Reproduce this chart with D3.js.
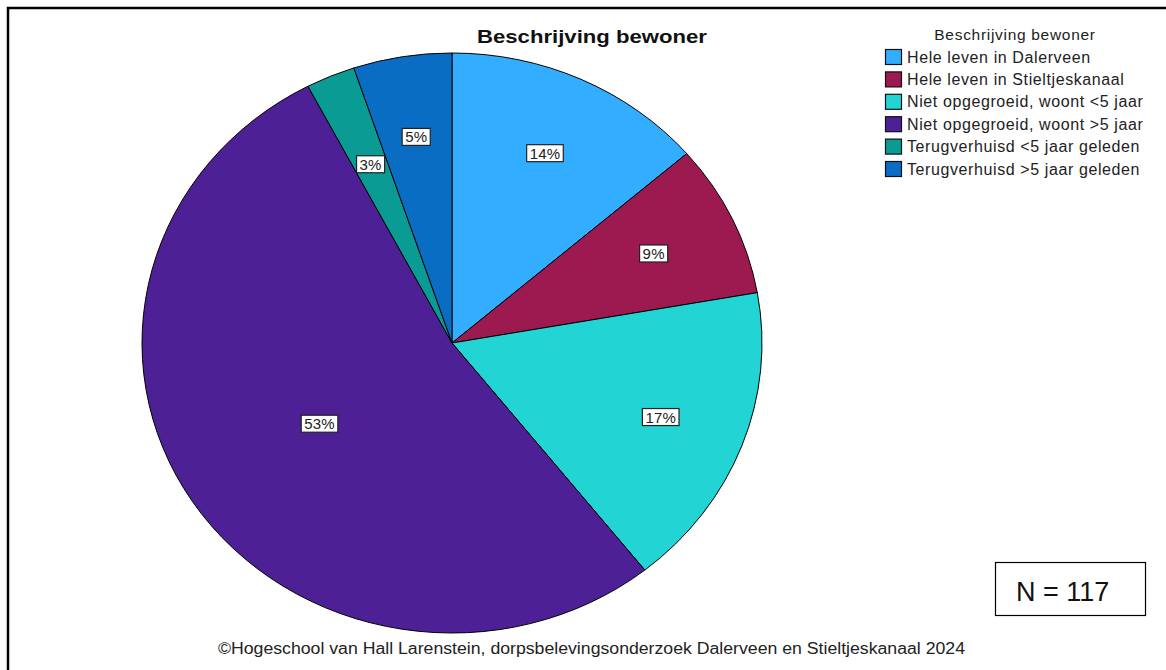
<!DOCTYPE html>
<html><head><meta charset="utf-8">
<script src="https://cdn.jsdelivr.net/npm/d3@7"></script>
<style>body{margin:0;background:#fff}svg{display:block}text{font-family:"Liberation Sans",Arial,sans-serif}</style>
</head><body>
<svg id="c" width="1166" height="670"></svg>
<script>
const categories = ["Hele leven in Dalerveen","Hele leven in Stieltjeskanaal","Niet opgegroeid, woont <5 jaar","Niet opgegroeid, woont >5 jaar","Terugverhuisd <5 jaar geleden","Terugverhuisd >5 jaar geleden"];
const counts = [16,10,20,62,3,6];
const colors = ["#33adff","#9c1a4f","#22d4d4","#4e2096","#0a9c94","#0a6dc4"];
const title = "Beschrijving bewoner";
const footer = "©Hogeschool van Hall Larenstein, dorpsbelevingsonderzoek Dalerveen en Stieltjeskanaal 2024";
const nLabel = "N = 117";

const svg = d3.select("#c");
// frame
svg.append("path").attr("d","M8,670 V8 H1166").attr("fill","none").attr("stroke","#000").attr("stroke-width",2.5);

const cx = 452, cy = 343, rx = 310, ry = 290, R = 300;
const total = d3.sum(counts);
const pie = d3.pie().sort(null).value(d=>d)(counts);
const arc = d3.arc().innerRadius(0).outerRadius(R);
const g = svg.append("g").attr("transform",`translate(${cx},${cy}) scale(${rx/R},${ry/R})`);
g.selectAll("path").data(pie).join("path")
  .attr("d",arc).attr("fill",(d,i)=>colors[i])
  .attr("stroke","#000").attr("stroke-width",1).attr("vector-effect","non-scaling-stroke");

// labels
const lg = svg.append("g");
pie.forEach((d,i)=>{
  const a = (d.startAngle+d.endAngle)/2;
  const share = d.value/total;
  const f = share > 0.3 ? 0.51 : (share < 0.04 ? 0.67 : 0.72);
  const x = cx + Math.sin(a)*rx*f, y = cy - Math.cos(a)*ry*f;
  const t = d3.format(".0%")(share);
  const tx = lg.append("text").attr("x",x).attr("y",y+5.5).attr("text-anchor","middle")
    .attr("font-size",15).attr("letter-spacing",0.2).attr("fill","#222").text(t);
  const bb = tx.node().getBBox();
  lg.insert("rect","text").attr("x",bb.x-3).attr("y",y-8.5).attr("width",bb.width+6).attr("height",17)
    .attr("fill","#fff").attr("stroke","#222").attr("stroke-width",1.2);
});

// title
svg.append("text").attr("x",592).attr("y",43).attr("text-anchor","middle")
  .attr("font-size",19).attr("font-weight","bold").attr("fill","#111")
  .attr("textLength",230).attr("lengthAdjust","spacingAndGlyphs").text(title);

// legend
svg.append("text").attr("x",1015).attr("y",40).attr("text-anchor","middle")
  .attr("font-size",15.5).attr("letter-spacing",0.7).attr("fill","#222").text(title);
const leg = svg.append("g");
categories.forEach((c,i)=>{
  const y = 49.5 + i*22.4;
  leg.append("rect").attr("x",885.5).attr("y",y).attr("width",16).attr("height",15)
    .attr("fill",colors[i]).attr("stroke","#111").attr("stroke-width",1.2);
  leg.append("text").attr("x",907).attr("y",y+13).attr("font-size",16).attr("letter-spacing",0.6)
    .attr("fill","#222").text(c);
});

// N box
svg.append("rect").attr("x",995.5).attr("y",562.5).attr("width",150).attr("height",53)
  .attr("fill","#fff").attr("stroke","#000").attr("stroke-width",1.2);
svg.append("text").attr("x",1016).attr("y",601).attr("font-size",27).attr("fill","#111")
  .attr("font-family","'Open Sans',sans-serif").text(nLabel);

// footer
svg.append("text").attr("x",218).attr("y",654).attr("font-size",16).attr("fill","#222")
  .attr("textLength",747).attr("lengthAdjust","spacingAndGlyphs").text(footer);
</script>
</body></html>
